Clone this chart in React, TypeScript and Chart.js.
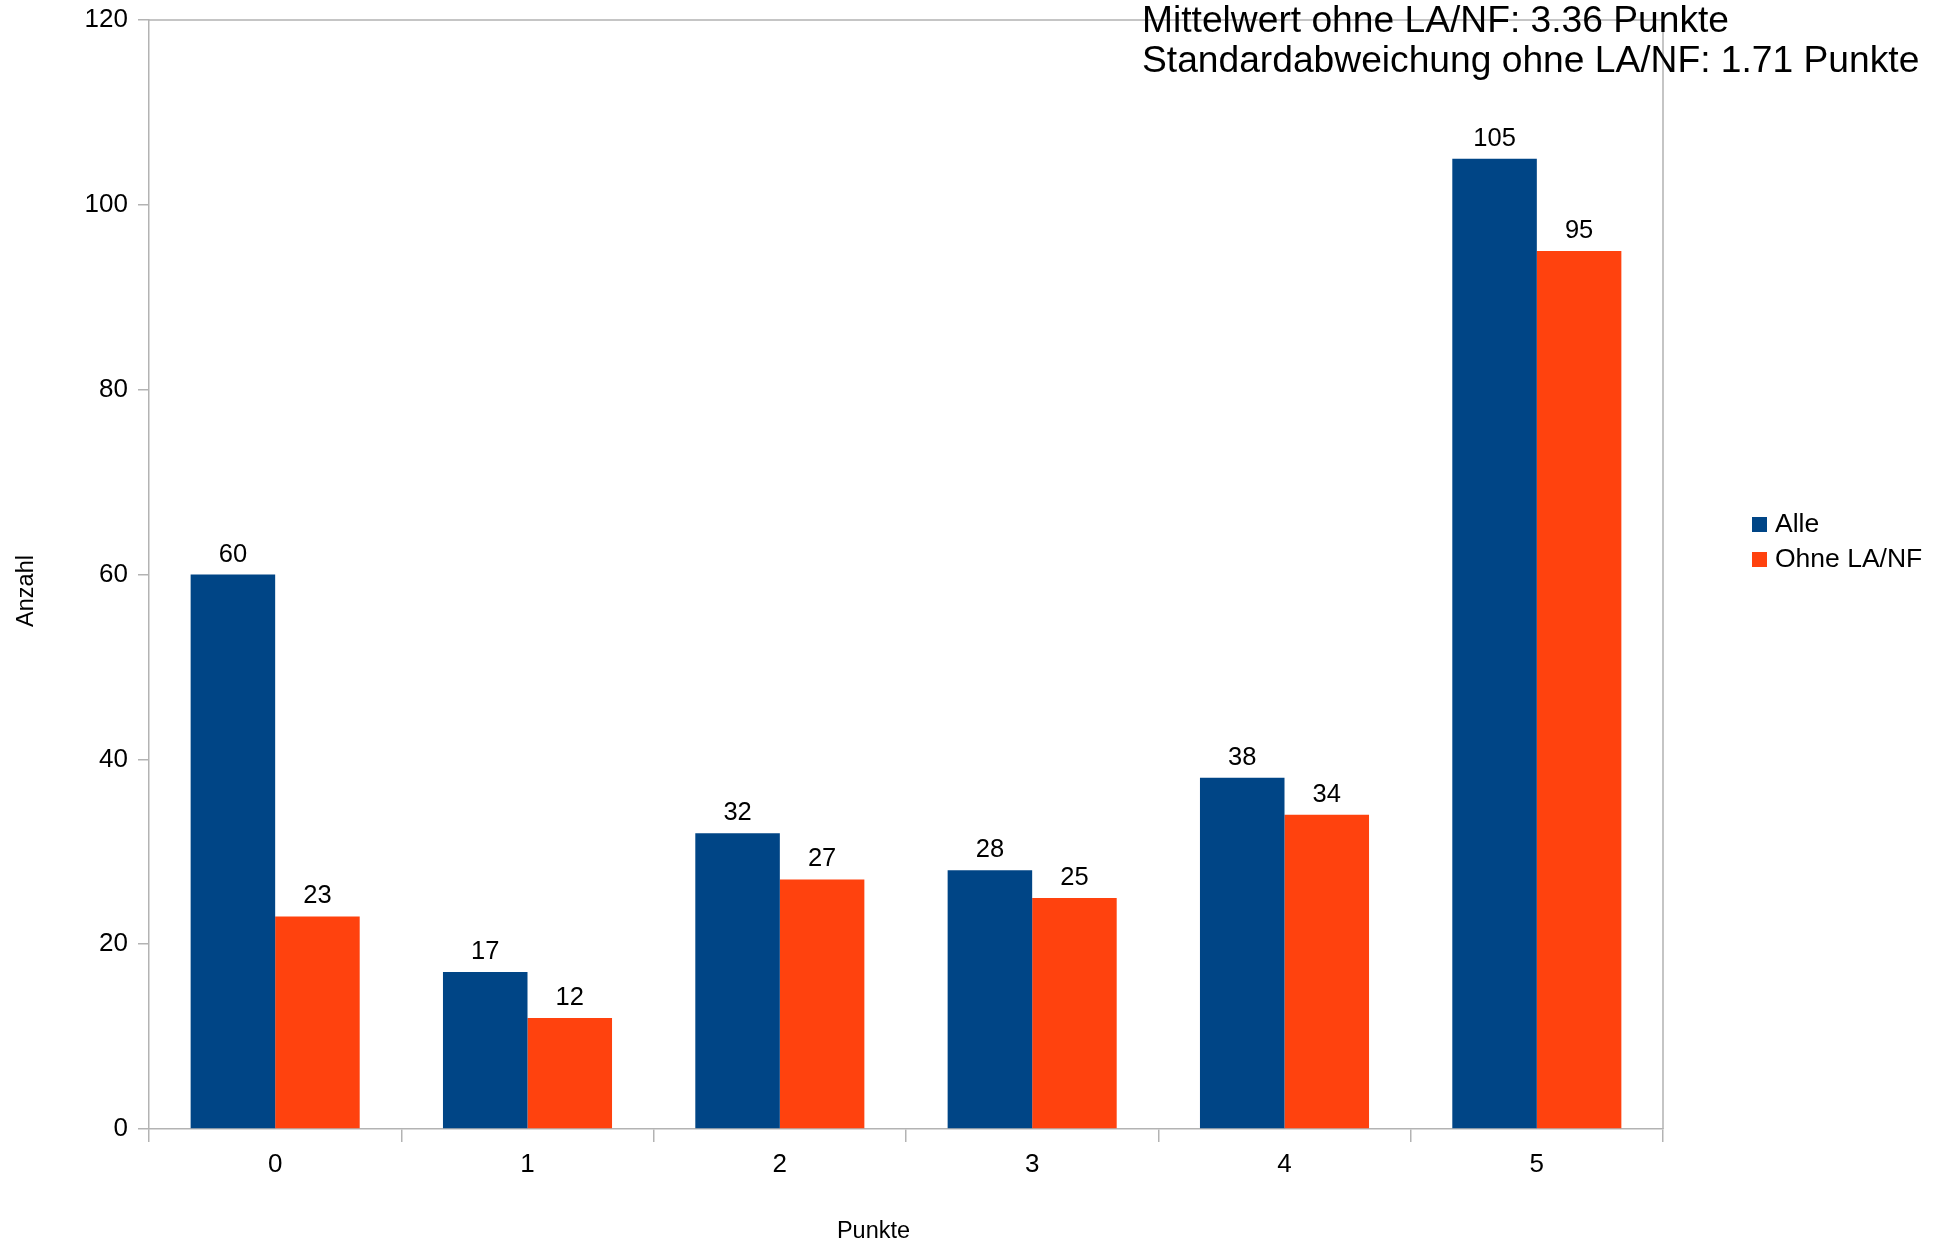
import React, { useEffect, useRef } from "react";
import { Chart, registerables } from "chart.js";

Chart.register(...registerables);

const categories = ["0", "1", "2", "3", "4", "5"];
const alleValues = [60, 17, 32, 28, 38, 105];
const ohneValues = [23, 12, 27, 25, 34, 95];
const seriesLabels = ["Alle", "Ohne LA/NF"];
const seriesColors = ["#004586", "#ff420e"];
const yMin = 0;
const yMax = 120;
const yStep = 20;
const annotationLines = [
  "Mittelwert ohne LA/NF: 3.36 Punkte",
  "Standardabweichung ohne LA/NF: 1.71 Punkte",
];
const xTitle = "Punkte";
const yTitle = "Anzahl";

const FAMILY = '"Liberation Sans", Arial, Helvetica, sans-serif';
const AXIS_COLOR = "#b3b3b3";
const font = (size: number) => `${size}px ${FAMILY}`;

const decorPlugin = {
  id: "decor",
  afterDraw(chart: any) {
    const ctx = chart.ctx as CanvasRenderingContext2D;
    const area = chart.chartArea;
    ctx.save();

    // frame top and right
    ctx.strokeStyle = AXIS_COLOR;
    ctx.lineWidth = 1.5;
    ctx.beginPath();
    ctx.moveTo(area.left, area.top);
    ctx.lineTo(area.right, area.top);
    ctx.lineTo(area.right, area.bottom);
    ctx.stroke();

    // data labels
    ctx.fillStyle = "#000";
    ctx.font = font(25.5);
    ctx.textAlign = "center";
    ctx.textBaseline = "alphabetic";
    chart.data.datasets.forEach((ds: any, i: number) => {
      const meta = chart.getDatasetMeta(i);
      meta.data.forEach((bar: any, j: number) => {
        ctx.fillText(String(ds.data[j]), bar.x, bar.y - 13);
      });
    });

    // legend
    ctx.font = font(26.5);
    ctx.textAlign = "left";
    ctx.textBaseline = "middle";
    chart.data.datasets.forEach((ds: any, i: number) => {
      const y = 517 + i * 35;
      ctx.fillStyle = ds.backgroundColor;
      ctx.fillRect(1752, y, 15, 15);
      ctx.fillStyle = "#000";
      ctx.fillText(ds.label, 1775, y + 8);
    });

    // axis titles
    ctx.font = font(23.5);
    ctx.textAlign = "center";
    ctx.textBaseline = "alphabetic";
    ctx.fillText(xTitle, 873.5, 1238);
    ctx.save();
    ctx.translate(33, 591);
    ctx.rotate(-Math.PI / 2);
    ctx.fillText(yTitle, 0, 0);
    ctx.restore();

    // annotation
    ctx.font = font(37.2);
    ctx.textAlign = "left";
    ctx.textBaseline = "alphabetic";
    annotationLines.forEach((line, i) => {
      ctx.fillText(line, 1142, 32 + i * 40);
    });

    ctx.restore();
  },
};

export default function App() {
  const ref = useRef<HTMLCanvasElement | null>(null);

  useEffect(() => {
    document.body.style.margin = "0";
    if (!ref.current) return;
    Chart.defaults.font.family = FAMILY;
    const chart = new Chart(ref.current, {
      type: "bar",
      data: {
        labels: categories,
        datasets: [
          {
            label: seriesLabels[0],
            data: alleValues,
            backgroundColor: seriesColors[0],
            borderWidth: 0,
            barPercentage: 1.0,
            categoryPercentage: 0.67,
          },
          {
            label: seriesLabels[1],
            data: ohneValues,
            backgroundColor: seriesColors[1],
            borderWidth: 0,
            barPercentage: 1.0,
            categoryPercentage: 0.67,
          },
        ],
      },
      options: {
        responsive: false,
        animation: false,
        layout: { padding: { top: 20, right: 281, left: 0, bottom: 0 } },
        plugins: {
          legend: { display: false },
          tooltip: { enabled: false },
          title: { display: false },
        },
        scales: {
          x: {
            grid: {
              display: true,
              offset: true,
              drawOnChartArea: false,
              drawTicks: true,
              tickLength: 13,
              color: AXIS_COLOR,
              lineWidth: 1.5,
            },
            border: { display: true, color: AXIS_COLOR, width: 1.5 },
            ticks: { color: "#000", font: { size: 26 }, padding: 7, maxRotation: 0 },
            afterFit: (scale: any) => {
              scale.height = 113;
              scale.paddingLeft = 0;
              scale.paddingRight = 0;
            },
          },
          y: {
            min: yMin,
            max: yMax,
            grid: {
              display: true,
              drawOnChartArea: false,
              drawTicks: true,
              tickLength: 11,
              color: AXIS_COLOR,
              lineWidth: 1.5,
            },
            border: { display: true, color: AXIS_COLOR, width: 1.5 },
            ticks: { stepSize: yStep, color: "#000", font: { size: 26 }, padding: 10 },
            afterFit: (scale: any) => {
              scale.width = 149;
              scale.paddingTop = 0;
              scale.paddingBottom = 0;
            },
          },
        },
      },
      plugins: [decorPlugin],
    } as any);
    return () => chart.destroy();
  }, []);

  return (
    <div style={{ position: "absolute", left: 0, top: 0, width: 1944, height: 1242, background: "#fff" }}>
      <canvas ref={ref} width={1944} height={1242} style={{ width: 1944, height: 1242, display: "block" }} />
    </div>
  );
}
